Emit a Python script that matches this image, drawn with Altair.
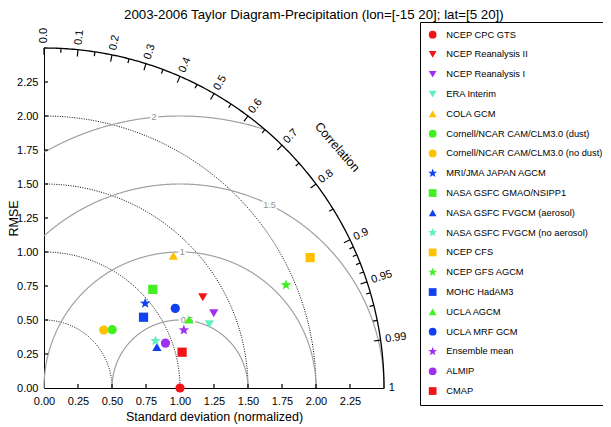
import numpy as np
import pandas as pd
import altair as alt

F = "Liberation Sans"

names = ["NCEP CPC GTS", "NCEP Reanalysis II", "NCEP Reanalysis I", "ERA Interim", "COLA GCM",
         "Cornell/NCAR CAM/CLM3.0 (dust)", "Cornell/NCAR CAM/CLM3.0 (no dust)", "MRI/JMA JAPAN AGCM",
         "NASA GSFC GMAO/NSIPP1", "NASA GSFC FVGCM (aerosol)", "NASA GSFC FVGCM (no aerosol)", "NCEP CFS",
         "NCEP GFS AGCM", "MOHC HadAM3", "UCLA AGCM", "UCLA MRF GCM", "Ensemble mean", "ALMIP", "CMAP"]
std_dev = [1.000, 1.345, 1.364, 1.303, 1.361, 0.660, 0.612, 0.970, 1.080, 0.883,
           0.890, 2.179, 1.934, 0.898, 1.179, 1.129, 1.113, 0.952, 1.049]
correlation = [1.000, 0.868, 0.915, 0.933, 0.699, 0.760, 0.718, 0.767, 0.741, 0.940,
               0.921, 0.898, 0.920, 0.815, 0.904, 0.855, 0.924, 0.938, 0.968]

RED, PURPLE, TURQ, GOLD, GREEN, BLUE = "#F01414", "#A030F0", "#60F0C0", "#FFC000", "#40F020", "#1040F0"
colors = [RED, RED, PURPLE, TURQ, GOLD, GREEN, GOLD, BLUE, GREEN, BLUE,
          TURQ, GOLD, GREEN, BLUE, GREEN, BLUE, PURPLE, PURPLE, RED]

# star path (unit coordinates)
_pts = []
for k in range(10):
    a = np.deg2rad(-90 + 36 * k)
    rr = 1.2 if k % 2 == 0 else 0.5
    _pts.append(f"{rr*np.cos(a):.3f},{rr*np.sin(a):.3f}")
STAR = "M" + "L".join(_pts) + "Z"
shapes = ["circle", "triangle-down", "triangle-down", "triangle-down", "triangle-up",
          "circle", "circle", STAR, "square", "triangle-up",
          STAR, "square", STAR, "square", "triangle-up", "circle", STAR, "circle", "square"]

RMAX = 2.5
std_arcs = [0.5, 1.0, 1.5, 2.0]
rmse_arcs = [0.5, 1.0, 1.5, 2.0]
rmse_labels = ["0.5", "1", "1.5", "2"]
rmse_label_phi = [84, 89, 64, 95.5]
corr_major = [0.0, 0.1, 0.2, 0.3, 0.4, 0.5, 0.6, 0.7, 0.8, 0.9, 0.95, 0.99]
corr_minor = [0.05, 0.15, 0.25, 0.35, 0.45, 0.55, 0.65, 0.75, 0.85,
              0.91, 0.92, 0.93, 0.94, 0.96, 0.97, 0.98]
corr_labels = ["0.0", "0.1", "0.2", "0.3", "0.4", "0.5", "0.6", "0.7", "0.8", "0.9", "0.95", "0.99", "1"]
corr_label_vals = corr_major + [1.0]
axis_ticks = [0.0, 0.25, 0.5, 0.75, 1.0, 1.25, 1.5, 1.75, 2.0, 2.25]

# ---- derived tables ----
pts = pd.DataFrame({"name": names, "std": std_dev, "corr": correlation})
pts["x"] = pts["std"] * pts["corr"]
pts["y"] = pts["std"] * np.sqrt(np.clip(1 - pts["corr"] ** 2, 0, None))

phi = np.linspace(0, np.pi / 2, 240)
rows = []
for r in std_arcs:
    for i, p in enumerate(phi):
        rows.append({"g": f"s{r}", "o": i, "x": r * np.cos(p), "y": r * np.sin(p)})
std_df = pd.DataFrame(rows)

outer_df = pd.DataFrame({"g": "outer", "o": np.arange(len(phi)),
                         "x": RMAX * np.cos(phi), "y": RMAX * np.sin(phi)})

phi2 = np.linspace(0, np.pi, 900)
rows = []
for r in rmse_arcs:
    xs = 1 + r * np.cos(phi2)
    ys = r * np.sin(phi2)
    m = (xs >= 0) & (xs ** 2 + ys ** 2 <= RMAX ** 2 + 1e-9)
    for i, (a, b) in enumerate(zip(xs[m], ys[m])):
        rows.append({"g": f"r{r}", "o": i, "x": a, "y": b})
rmse_df = pd.DataFrame(rows)

lab_df = pd.DataFrame({
    "t": rmse_labels,
    "x": [1 + r * np.cos(np.deg2rad(p)) for r, p in zip(rmse_arcs, rmse_label_phi)],
    "y": [r * np.sin(np.deg2rad(p)) for r, p in zip(rmse_arcs, rmse_label_phi)],
})

rows = []
for c in corr_major:
    th = np.arccos(c)
    rows.append({"x": RMAX * np.cos(th), "y": RMAX * np.sin(th),
                 "x2": (RMAX - 0.05) * np.cos(th), "y2": (RMAX - 0.05) * np.sin(th)})
for c in corr_minor:
    th = np.arccos(c)
    rows.append({"x": RMAX * np.cos(th), "y": RMAX * np.sin(th),
                 "x2": (RMAX - 0.032) * np.cos(th), "y2": (RMAX - 0.032) * np.sin(th)})
for v in axis_ticks[1:]:
    rows.append({"x": v, "y": 0.0, "x2": v, "y2": 0.03})
    rows.append({"x": 0.0, "y": v, "x2": 0.03, "y2": v})
tick_df = pd.DataFrame(rows)

cl = []
for t, c in zip(corr_labels, corr_label_vals):
    th = np.arccos(c)
    cl.append({"t": t, "x": (RMAX + 0.035) * np.cos(th), "y": (RMAX + 0.035) * np.sin(th),
               "ang": (360 - np.degrees(th)) % 360})
cl_df = pd.DataFrame(cl)

ctitle_df = pd.DataFrame({"t": ["Correlation"],
                          "x": [2.79 * np.cos(np.deg2rad(39.4))],
                          "y": [2.79 * np.sin(np.deg2rad(39.4))]})

# ---- encodings ----
xs_ = alt.Scale(domain=[0, RMAX], nice=False, zero=True)
ys_ = alt.Scale(domain=[0, RMAX], nice=False, zero=True)
xax = alt.Axis(values=axis_ticks, format=".2f", title="Standard deviation (normalized)", grid=False,
               ticks=False, tickSize=0, labelPadding=7, labelFontSize=11, labelFont=F, labelColor="black",
               titleFont=F, titleFontSize=12.5, titleFontWeight="normal", titleColor="black",
               titleY=32, titleBaseline="alphabetic", domainColor="black", labelFlush=False)
yax = alt.Axis(values=axis_ticks, format=".2f", title="RMSE", grid=False,
               ticks=False, tickSize=0, labelPadding=6, labelFontSize=11, labelFont=F, labelColor="black",
               titleFont=F, titleFontSize=12.5, titleFontWeight="normal", titleColor="black",
               titleX=-27, titleY=170, titleAngle=270, titleAlign="center", titleBaseline="alphabetic",
               domainColor="black", labelFlush=False)


def X(f="x"):
    return alt.X(f"{f}:Q", scale=xs_, axis=xax)


def Y(f="y"):
    return alt.Y(f"{f}:Q", scale=ys_, axis=yax)


std_layer = alt.Chart(std_df).mark_line(color="black", strokeDash=[1, 1.4], strokeWidth=1).encode(
    x=X(), y=Y(), detail="g:N", order="o:Q")
rmse_layer = alt.Chart(rmse_df).mark_line(color="#A0A0A0", strokeWidth=1.2).encode(
    x=X(), y=Y(), detail="g:N", order="o:Q")
outer_layer = alt.Chart(outer_df).mark_line(color="black", strokeWidth=1.3).encode(
    x=X(), y=Y(), order="o:Q")
tick_layer = alt.Chart(tick_df).mark_rule(color="black", strokeWidth=1.2).encode(
    x=X(), y=Y(), x2="x2:Q", y2="y2:Q")
halo_layer = alt.Chart(lab_df).mark_text(font=F, fontSize=9, color="white", stroke="white",
                                         strokeWidth=4).encode(x=X(), y=Y(), text="t:N")
lab_layer = alt.Chart(lab_df).mark_text(font=F, fontSize=9, color="#909090").encode(
    x=X(), y=Y(), text="t:N")
cl_layer = alt.Chart(cl_df).mark_text(font=F, fontSize=11, color="black", align="left",
                                      baseline="middle").encode(
    x=X(), y=Y(), text="t:N", angle=alt.Angle("ang:Q", scale=None))
ct_layer = alt.Chart(ctitle_df).mark_text(font=F, fontSize=12.5, color="black", angle=49,
                                          align="center", baseline="middle").encode(
    x=X(), y=Y(), text="t:N")

leg = alt.Legend(title=None, orient="none", legendX=376, legendY=-26, direction="vertical",
                 strokeColor="black", padding=8, rowPadding=9.8,
                 labelFont=F, labelFontSize=9.3, labelColor="black", labelLimit=300,
                 symbolSize=60, labelOffset=9, symbolStrokeWidth=0, symbolOpacity=1,
                 fillColor="white")
pt_layer = alt.Chart(pts).mark_point(filled=True, opacity=1, size=85).encode(
    x=X(), y=Y(),
    color=alt.Color("name:N", scale=alt.Scale(domain=names, range=colors), legend=leg),
    shape=alt.Shape("name:N", scale=alt.Scale(domain=names, range=shapes), legend=leg),
)

chart = alt.layer(std_layer, rmse_layer, outer_layer, tick_layer, halo_layer, lab_layer,
                  cl_layer, ct_layer, pt_layer).properties(
    width=340, height=340,
    title=alt.TitleParams("2003-2006 Taylor Diagram-Precipitation (lon=[-15 20]; lat=[5 20])",
                          font=F, fontSize=13.3, fontWeight="normal", color="black",
                          anchor="start", frame="group", dx=80, dy=22.5, offset=12, baseline="alphabetic"),
    padding={"left": 36, "top": 40, "right": 219, "bottom": 37},
    autosize=alt.AutoSizeParams(type="none"),
).configure_view(stroke=None)

chart.save("out.html", embed_options={"renderer": "svg", "actions": False})
